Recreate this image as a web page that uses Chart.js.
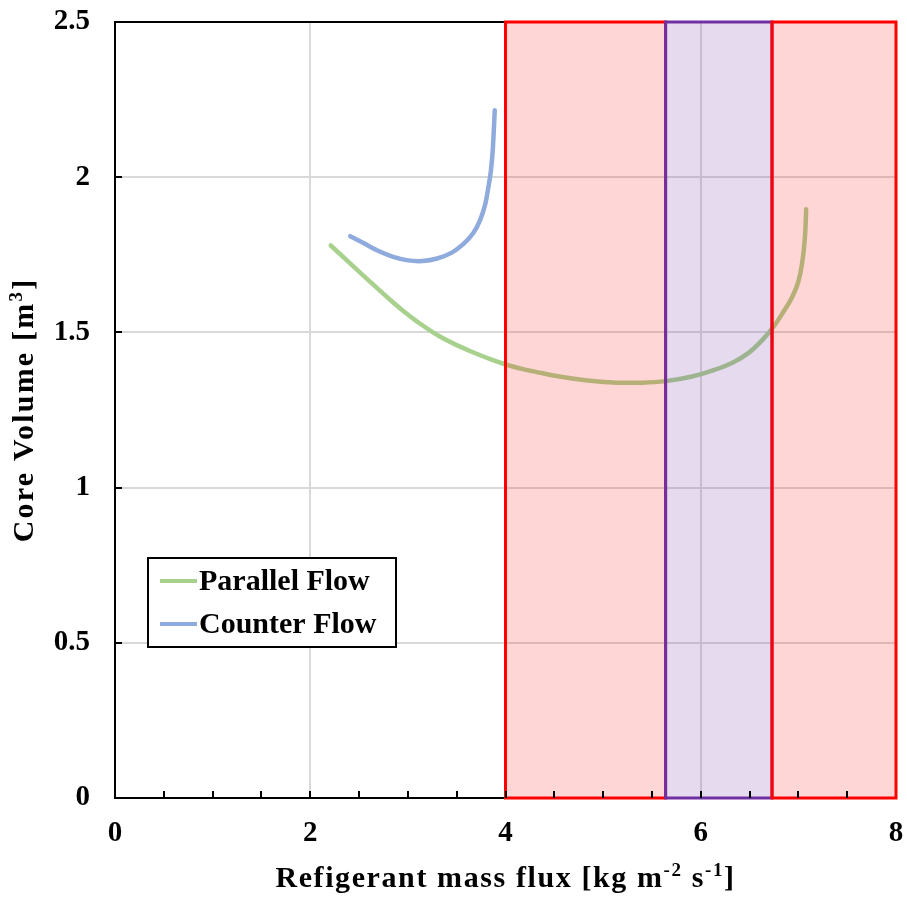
<!DOCTYPE html>
<html>
<head>
<meta charset="utf-8">
<script src="https://cdn.jsdelivr.net/npm/chart.js@4/dist/chart.umd.min.js"></script>
<style>
  html, body { margin: 0; padding: 0; background: #ffffff; }
  #wrap { position: relative; width: 907px; height: 897px; }
</style>
</head>
<body>
<div id="wrap"><canvas id="c" width="907" height="897"></canvas></div>
<script>
// Core volume vs refrigerant mass flux
const parallelX = [2.21, 2.40, 2.60, 2.80, 2.95, 3.13, 3.31, 3.50, 3.66, 3.85, 4.02, 4.20, 4.37, 4.55, 4.72, 4.95, 5.14, 5.40, 5.64, 5.90, 6.14, 6.33, 6.49, 6.63, 6.75, 6.85, 6.92, 6.98, 7.02, 7.05, 7.07, 7.08];
const parallelY = [1.78, 1.725, 1.667, 1.61, 1.57, 1.527, 1.49, 1.459, 1.437, 1.413, 1.395, 1.38, 1.369, 1.358, 1.35, 1.342, 1.338, 1.338, 1.343, 1.357, 1.379, 1.403, 1.434, 1.475, 1.52, 1.568, 1.604, 1.645, 1.69, 1.75, 1.82, 1.897];
const counterX = [2.41, 2.55, 2.70, 2.85, 3.00, 3.15, 3.30, 3.45, 3.57, 3.67, 3.74, 3.79, 3.82, 3.85, 3.87, 3.89];
const counterY = [1.81, 1.787, 1.762, 1.743, 1.732, 1.730, 1.738, 1.757, 1.785, 1.82, 1.862, 1.91, 1.959, 2.02, 2.09, 2.216];

const seriesNames = ['Parallel Flow', 'Counter Flow'];
const xTickValues = [0, 2, 4, 6, 8];
const yTickValues = [0, 0.5, 1, 1.5, 2, 2.5];

// Shaded operating ranges on the mass-flux axis
const redBandA = [4, 5.64];
const purpleBand = [5.64, 6.73];
const redBandB = [6.73, 8];

// Axis titles, split into normal / superscript runs
const xTitleRuns = [['Refigerant mass flux [kg m', false], ['-2', true], [' s', false], ['-1', true], [']', false]];
const yTitleRuns = [['Core Volume [m', false], ['3', true], [']', false]];

const SERIF = '"Liberation Serif", "Times New Roman", serif';
const GREEN = '#A9D18E';
const BLUE = '#8FAADC';

function pts(xs, ys) { return xs.map((x, i) => ({ x: x, y: ys[i] })); }

// Draw a title made of runs, centred on (0,0) of the current transform, baseline at 0
function drawRuns(ctx, runs, size, spacing) {
  const main = 'bold ' + size + 'px ' + SERIF;
  const sup = 'bold ' + Math.round(size * 0.62) + 'px ' + SERIF;
  ctx.letterSpacing = spacing + 'px';
  let total = 0;
  const widths = runs.map(([t, s]) => {
    ctx.font = s ? sup : main;
    const w = ctx.measureText(t).width;
    total += w;
    return w;
  });
  let x = -total / 2;
  ctx.textAlign = 'left';
  ctx.textBaseline = 'alphabetic';
  runs.forEach(([t, s], i) => {
    ctx.font = s ? sup : main;
    ctx.fillText(t, x, s ? -size * 0.36 : 0);
    x += widths[i];
  });
  ctx.letterSpacing = '0px';
}

const bandsPlugin = {
  id: 'bands',
  beforeDatasetsDraw(chart) {
    const { ctx, chartArea: a } = chart;
    ctx.save();
    ctx.strokeStyle = '#000';
    ctx.lineWidth = 2;
    ctx.beginPath();
    ctx.moveTo(a.left, a.top);
    ctx.lineTo(a.right, a.top);
    ctx.stroke();
    ctx.restore();
  },
  afterDatasetsDraw(chart) {
    const { ctx, scales: { x, y } } = chart;
    const top = y.getPixelForValue(2.5), bot = y.getPixelForValue(0);
    function band(r, fill, stroke) {
      const l = x.getPixelForValue(r[0]), rr = x.getPixelForValue(r[1]);
      ctx.save();
      ctx.fillStyle = fill;
      ctx.fillRect(l, top, rr - l, bot - top);
      ctx.strokeStyle = stroke;
      ctx.lineWidth = 3;
      ctx.strokeRect(l, top, rr - l, bot - top);
      ctx.restore();
    }
    band(redBandA, 'rgba(255,0,0,0.16)', '#FF0000');
    band(purpleBand, 'rgba(112,48,160,0.18)', '#7030A0');
    band(redBandB, 'rgba(255,0,0,0.16)', '#FF0000');
  },
  afterDraw(chart) {
    const { ctx, scales: { x, y }, chartArea: a } = chart;
    ctx.save();
    ctx.strokeStyle = '#000';
    ctx.lineWidth = 2;
    // inward tick marks
    for (let v = 0.5; v < 8; v += 0.5) {
      const px = Math.round(x.getPixelForValue(v));
      ctx.beginPath();
      ctx.moveTo(px, a.bottom);
      ctx.lineTo(px, a.bottom - 7);
      ctx.stroke();
    }
    for (let v = 0.5; v < 2.5; v += 0.5) {
      const py = Math.round(y.getPixelForValue(v));
      ctx.beginPath();
      ctx.moveTo(a.left, py);
      ctx.lineTo(a.left + 7, py);
      ctx.stroke();
    }
    // legend box
    const lx = 148, ly = 558, lw = 248, lh = 89;
    ctx.fillStyle = '#fff';
    ctx.fillRect(lx, ly, lw, lh);
    ctx.strokeRect(lx, ly, lw, lh);
    const colors = [GREEN, BLUE];
    const rows = [581, 624];
    ctx.font = 'bold 30px ' + SERIF;
    ctx.textBaseline = 'middle';
    ctx.textAlign = 'left';
    seriesNames.forEach((name, i) => {
      ctx.strokeStyle = colors[i];
      ctx.lineWidth = 4;
      ctx.beginPath();
      ctx.moveTo(160, rows[i]);
      ctx.lineTo(197, rows[i]);
      ctx.stroke();
      ctx.fillStyle = '#000';
      ctx.fillText(name, 199, rows[i] + 1);
    });

    // axis titles
    ctx.fillStyle = '#000';
    ctx.save();
    ctx.translate((a.left + a.right) / 2, 887);
    drawRuns(ctx, xTitleRuns, 30, 1.6);
    ctx.restore();
    ctx.save();
    ctx.translate(33, (a.top + a.bottom) / 2);
    ctx.rotate(-Math.PI / 2);
    drawRuns(ctx, yTitleRuns, 30, 2.2);
    ctx.restore();
    ctx.restore();
  }
};

new Chart(document.getElementById('c'), {
  type: 'scatter',
  data: {
    datasets: [
      {
        label: seriesNames[0],
        data: pts(parallelX, parallelY),
        showLine: true,
        borderColor: GREEN,
        borderWidth: 4.5,
        pointRadius: 0,
        tension: 0.3,
        borderCapStyle: 'round',
        borderJoinStyle: 'round'
      },
      {
        label: seriesNames[1],
        data: pts(counterX, counterY),
        showLine: true,
        borderColor: BLUE,
        borderWidth: 4.5,
        pointRadius: 0,
        tension: 0.3,
        borderCapStyle: 'round',
        borderJoinStyle: 'round'
      }
    ]
  },
  options: {
    responsive: false,
    animation: false,
    layout: { padding: { top: 22, right: 11, left: 0, bottom: 0 } },
    plugins: { legend: { display: false }, tooltip: { enabled: false } },
    scales: {
      x: {
        type: 'linear',
        min: 0, max: 8,
        afterBuildTicks(s) { s.ticks = xTickValues.map(v => ({ value: v })); },
        afterFit(s) { s.height = 99; s.paddingLeft = 0; s.paddingRight = 0; },
        grid: { color: '#D9D9D9', lineWidth: 2, drawTicks: false },
        border: { color: '#000', width: 2 },
        ticks: { color: '#000', padding: 18, maxRotation: 0, font: { family: SERIF, size: 29, weight: 'bold' },
                 callback: v => String(v) }
      },
      y: {
        type: 'linear',
        min: 0, max: 2.5,
        afterBuildTicks(s) { s.ticks = yTickValues.map(v => ({ value: v })); },
        afterFit(s) { s.width = 115; s.paddingTop = 0; s.paddingBottom = 0; },
        grid: { color: '#D9D9D9', lineWidth: 2, drawTicks: false },
        border: { color: '#000', width: 2 },
        ticks: { color: '#000', padding: 25, font: { family: SERIF, size: 29, weight: 'bold' },
                 callback: v => String(v) }
      }
    }
  },
  plugins: [bandsPlugin]
});
</script>
</body>
</html>
